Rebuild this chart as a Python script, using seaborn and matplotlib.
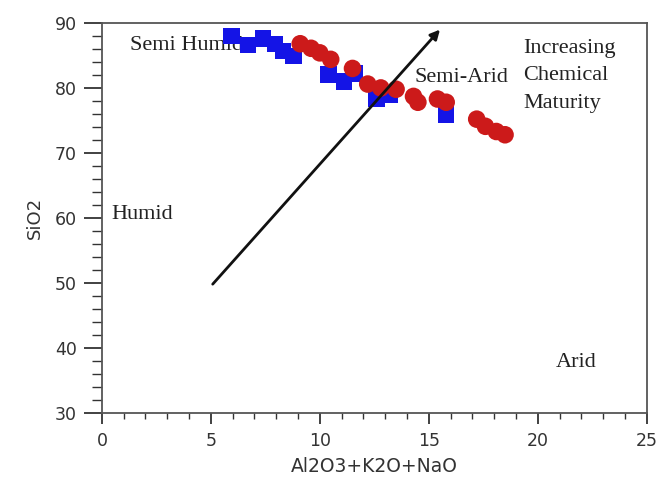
import matplotlib
matplotlib.use("Agg")
import matplotlib.pyplot as plt
import seaborn as sns
import pandas as pd
from matplotlib.ticker import MultipleLocator

blue_x = [5.95, 6.7, 7.4, 7.95, 8.3, 8.8, 10.4, 11.1, 11.6, 12.6, 13.2, 15.8]
blue_y = [88.0, 86.6, 87.6, 86.8, 85.7, 84.9, 82.1, 81.0, 82.2, 78.4, 79.0, 75.9]
red_x = [9.1, 9.6, 10.0, 10.5, 11.5, 12.2, 12.8, 13.5, 14.3, 14.5, 15.4, 15.8, 17.2, 17.6, 18.1, 18.5]
red_y = [86.8, 86.1, 85.4, 84.4, 83.0, 80.6, 80.0, 79.8, 78.7, 77.8, 78.3, 77.8, 75.2, 74.1, 73.3, 72.8]
arrow_start = (5.0, 49.5)
arrow_end = (15.6, 89.3)

sns.set_style("white")
fig = plt.figure(figsize=(6.66, 4.78), dpi=100)
ax = fig.add_axes([0.153, 0.136, 0.818, 0.816])

dfb = pd.DataFrame({"x": blue_x, "y": blue_y})
dfr = pd.DataFrame({"x": red_x, "y": red_y})
sns.scatterplot(data=dfb, x="x", y="y", ax=ax, marker="s", s=140, color="#1414E6",
                edgecolor="none", zorder=3)
sns.scatterplot(data=dfr, x="x", y="y", ax=ax, marker="o", s=160, color="#CC1A1A",
                edgecolor="none", zorder=4)

ax.annotate("", xy=arrow_end, xytext=arrow_start,
            arrowprops=dict(arrowstyle="-|>", color="#111111", lw=2.0, mutation_scale=14),
            zorder=5)

serif = "Liberation Serif"
tc = "#222222"
fs = 16
ax.text(1.3, 86.6, "Semi Humid", family=serif, fontsize=fs, color=tc, va="center", zorder=2)
ax.text(0.45, 60.5, "Humid", family=serif, fontsize=fs, color=tc, va="center")
ax.text(20.85, 37.8, "Arid", family=serif, fontsize=fs, color=tc, va="center")
ax.text(14.35, 81.6, "Semi-Arid", family=serif, fontsize=fs, color=tc, va="center", zorder=6)
ax.text(19.35, 81.9, "Increasing\nChemical\nMaturity", family=serif, fontsize=fs,
        color=tc, va="center", linespacing=1.6)

ax.set_xlim(0, 25)
ax.set_ylim(30, 90)
ax.xaxis.set_major_locator(MultipleLocator(5))
ax.xaxis.set_minor_locator(MultipleLocator(1))
ax.yaxis.set_major_locator(MultipleLocator(10))
ax.yaxis.set_minor_locator(MultipleLocator(2))
ax.tick_params(which="both", direction="out", color="#333333", labelsize=12.5, labelcolor="#333333")
ax.tick_params(axis="x", which="major", length=8, width=1.3, pad=6)
ax.tick_params(axis="x", which="minor", length=4, width=1)
ax.tick_params(axis="y", which="major", length=13, width=1.3, pad=5)
ax.tick_params(axis="y", which="minor", length=7, width=1)
ax.tick_params(axis="both", which="both", bottom=True, left=True)
for s in ax.spines.values():
    s.set_color("#555555")
    s.set_linewidth(1.3)
ax.set_xlabel("Al2O3+K2O+NaO", fontsize=13.5, color="#333333", labelpad=5)
ax.set_ylabel("SiO2", fontsize=13, color="#333333", labelpad=8)

fig.savefig("out.png", dpi=100)
